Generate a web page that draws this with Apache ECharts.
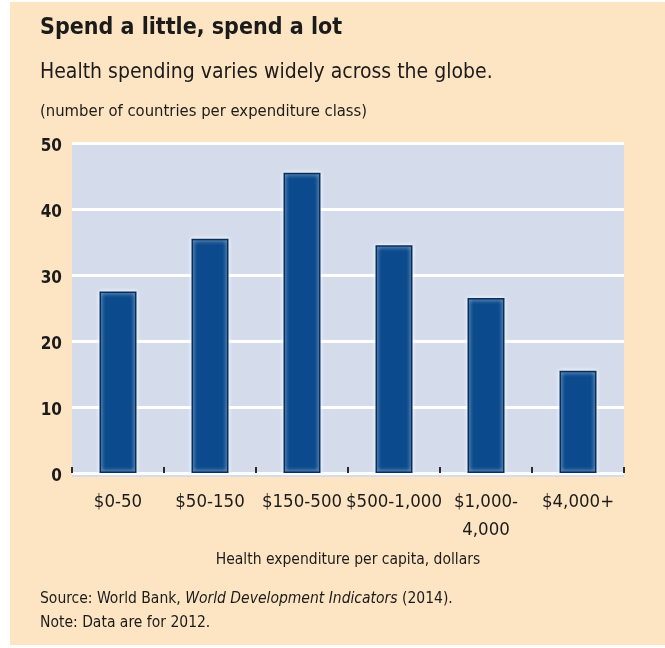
<!DOCTYPE html>
<html>
<head>
<meta charset="utf-8">
<script src="https://cdn.jsdelivr.net/npm/echarts@6/dist/echarts.min.js"></script>
<style>
html,body{margin:0;padding:0;background:#fff;}
#c{width:665px;height:648px;}
</style>
</head>
<body>
<div id="c"></div>
<script>
const categories = ['$0-50', '$50-150', '$150-500', '$500-1,000', '$1,000-\n4,000', '$4,000+'];
const values = [27.5, 35.5, 45.5, 34.5, 26.5, 15.5];
const yTicks = [0, 10, 20, 30, 40, 50];

const FONT = '"Liberation Sans Narrow", "DejaVu Sans Condensed", sans-serif';
const TXT = '#1b1b1b';

const chart = echarts.init(document.getElementById('c'), null, {renderer: 'canvas'});
chart.setOption({
  backgroundColor: '#ffffff',
  animation: false,
  graphic: [
    {type: 'rect', z: -10, shape: {x: 10, y: 2, width: 655, height: 643}, style: {fill: '#fde5c3'}},
    {type: 'rect', z: -9, shape: {x: 72, y: 142, width: 552, height: 335}, style: {fill: '#d4dcec'}},
    {type: 'text', left: 40, top: 17, style: {text: 'Spend a little, spend a lot', font: 'bold 23px ' + FONT, fill: TXT}},
    {type: 'text', left: 40, top: 62, style: {text: 'Health spending varies widely across the globe.', font: '21px ' + FONT, fill: TXT}},
    {type: 'text', left: 40, top: 103, style: {text: '(number of countries per expenditure class)', font: '16.5px ' + FONT, fill: TXT}},
    {type: 'text', left: 40, top: 591, style: {
      text: '{a|Source: World Bank, }{b|World Development Indicators}{a| (2014).}',
      rich: {
        a: {font: '15.5px ' + FONT, fill: TXT},
        b: {font: 'italic 15.5px ' + FONT, fill: TXT}
      }
    }},
    {type: 'text', left: 40, top: 615, style: {text: 'Note: Data are for 2012.', font: '15.5px ' + FONT, fill: TXT}}
  ],
  grid: {left: 72, right: 41, top: 143, bottom: 175, containLabel: false},
  xAxis: {
    type: 'category',
    data: categories,
    name: 'Health expenditure per capita, dollars',
    nameLocation: 'middle',
    nameGap: 79,
    nameTextStyle: {fontFamily: FONT, fontSize: 15.5, color: TXT},
    axisLine: {show: false},
    axisTick: {show: true, inside: true, length: 6, lineStyle: {color: '#2a2a2a', width: 2}},
    axisLabel: {margin: 15, fontFamily: FONT, fontSize: 18.5, color: TXT, lineHeight: 28, interval: 0}
  },
  yAxis: {
    type: 'value',
    min: 0, max: 50, interval: 10,
    axisLine: {show: false},
    axisTick: {show: false},
    splitLine: {show: true, lineStyle: {color: '#ffffff', width: 3}},
    axisLabel: {
      margin: 10, fontFamily: FONT, fontSize: 17, fontWeight: 'bold', color: TXT,
      verticalAlign: 'top', lineHeight: 8,
      formatter: function (v) { return yTicks.indexOf(v) >= 0 ? String(v) : ''; }
    }
  },
  series: [{
    type: 'bar',
    data: values,
    barWidth: 37,
    itemStyle: {
      color: '#0b4a8c',
      borderColor: '#072f5e',
      borderWidth: 1.5,
      shadowColor: 'rgba(255,255,255,0.95)',
      shadowBlur: 4
    }
  }]
});
</script>
</body>
</html>
